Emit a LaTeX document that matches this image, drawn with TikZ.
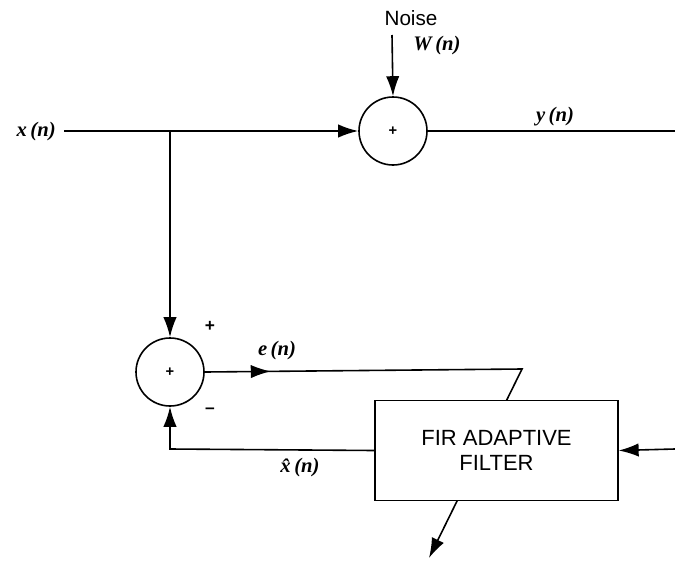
\documentclass[tikz,border=0pt]{standalone}
\usepackage{fontspec}
\setmainfont{Liberation Serif}
\setsansfont{Liberation Sans}
\usetikzlibrary{arrows.meta,decorations.markings,backgrounds}
\begin{document}
\begin{tikzpicture}[x=0.75pt,y=-0.75pt,
  wire/.style={line width=1.2pt},
  sumnode/.style={circle,draw,line width=1.2pt,minimum size=51pt,inner sep=0pt,font=\sffamily\bfseries\fontsize{11}{13}\selectfont},
  boxnode/.style={draw,fill=white,line width=1.2pt,minimum width=182pt,minimum height=75pt,align=center,font=\sffamily\fontsize{16.5}{19}\selectfont},
  lbl/.style={font=\bfseries\itshape\fontsize{15.5}{18}\selectfont,inner sep=0pt},
  sgn/.style={font=\sffamily\bfseries\fontsize{13}{15}\selectfont,inner sep=0pt},
  tip/.style={-{Latex[length=15pt,width=10pt]}},
  midarrow/.style={postaction={decorate},decoration={markings,mark=at position #1 with {\arrow{Latex[length=15pt,width=10pt]}}}}
]
\useasboundingbox (0,0) rectangle (675,561);
% nodes
\node[sumnode] (s1) at (393,131) {+};
\node[sumnode] (s2) at (170,372) {+};
\node[boxnode] (f) at (496.5,450.5) {FIR ADAPTIVE\\FILTER};
\node[font=\sffamily\fontsize{15.5}{18}\selectfont,inner sep=0pt] (noise) at (411,18) {Noise};
\node[lbl] (w) at (437,46) {W\,(n)};
\node[lbl,anchor=east] (x) at (56,132) {x\,(n)};
\node[lbl] (y) at (555,117) {y\,(n)};
\node[lbl] (e) at (277,351) {e\,(n)};
\node[lbl] (xh) at (300,468) {\^{x}\,(n)};
\node[sgn] (pl) at (210,326) {+};
\node[sgn] (mi) at (210,411) {--};
% coordinates
\coordinate (xs) at (64,131);
\coordinate (j) at (170,131);
\coordinate (yend) at (675,131);
\coordinate (nz) at (392,35);
\coordinate (ekink) at (522,369);
\coordinate (aend) at (429,558);
\coordinate (rin) at (675,449);
\coordinate (xhc) at (170,449);
% connectors
\draw[wire,tip] (xs) -- (s1.west);
\draw[wire,tip] (nz) -- (s1.north);
\draw[wire] (s1.east) -- (yend);
\draw[wire,tip] (j) -- (s2.north);
\begin{scope}[on background layer]
\draw[wire,tip,midarrow=0.125] (s2.east) -- (ekink) -- (aend);
\end{scope}
\draw[wire,tip] (rin) -- (f.east);
\draw[wire,tip] (f.west) -- (xhc) -- (s2.south);
\end{tikzpicture}
\end{document}
